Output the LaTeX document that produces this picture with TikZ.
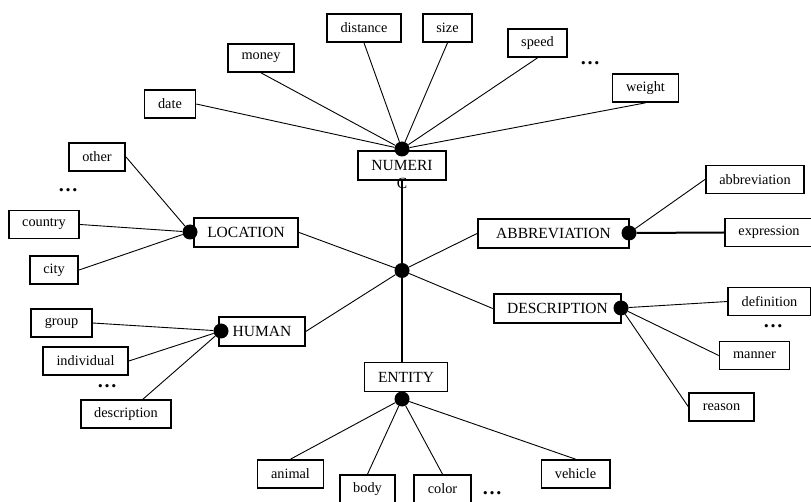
\documentclass[tikz,border=0pt]{standalone}
\usepackage{fontspec}
\setmainfont{Liberation Serif}
\newcommand\catfont{\fontsize{15.5}{18}\selectfont}
\newcommand\leaffont{\fontsize{14.3}{16}\selectfont}
\begin{document}
\begin{tikzpicture}[x=1pt,y=-1pt,
  leaf/.style={draw,line width=1.7pt,font=\leaffont,inner xsep=13.5pt,minimum height=28pt},
  cat/.style={draw,line width=1.9pt,font=\catfont,inner xsep=13.5pt,minimum height=29pt},
  dot/.style={circle,fill,inner sep=0pt,minimum size=15pt},
  more/.style={font=\fontsize{20}{20}\selectfont\bfseries,anchor=base,inner sep=0pt},
  link/.style={line width=0.9pt},
  trunk/.style={line width=2pt}]
\useasboundingbox (0,0) rectangle (811,502);
%
\node[dot] (hub) at (402,270.5) {};
\node[cat,label={[font=\catfont,inner sep=0pt,label distance=-3pt]below:C}] (num) at (402,165.5) {NUMERI};
\node[cat] (loc) at (246,232.5) {LOCATION};
\node[cat] (hum) at (262,331.5) {HUMAN};
\node[cat,minimum width=151pt] (abb) at (553.5,233.5) {ABBREVIATION};
\node[cat] (des) at (557.5,308.5) {DESCRIPTION};
\node[cat] (ent) at (406,377) {ENTITY};
\node[dot] (numdot) at (402,149) {};
\node[dot] (locdot) at (190,232) {};
\node[dot] (humdot) at (221,331) {};
\node[dot] (abbdot) at (629,233) {};
\node[dot] (desdot) at (621,308) {};
\node[dot] (entdot) at (402,399) {};
%
\draw[trunk] (num.south) -- (hub);
\draw[trunk] (hub) -- (hub |- ent.north);
\draw[link] (hub) -- (loc.east);
\draw[link] (hub) -- (hum.east);
\draw[link] (hub) -- (abb.west);
\draw[link] (hub) -- (des.west);
% numeric
\node[leaf] (date) at (170,104) {date};
\node[leaf] (money) at (261,58) {money};
\node[leaf] (distance) at (364,28) {distance};
\node[leaf] (size) at (447.5,28) {size};
\node[leaf] (speed) at (537.5,43) {speed};
\node[leaf] (weight) at (645.5,88) {weight};
\node[more] at (590,65) {\ldots};
\draw[link] (numdot) -- (date.east);
\foreach \n in {money,distance,size,speed,weight}
  \draw[link] (numdot) -- (\n.south);
% location
\node[leaf] (other) at (97,157) {other};
\node[leaf] (country) at (44,224.5) {country};
\node[leaf] (city) at (54,270) {city};
\node[more] at (68,192) {\ldots};
\foreach \n in {other,country,city}
  \draw[link] (locdot) -- (\n.east);
% human
\node[leaf] (group) at (61.5,323) {group};
\node[leaf] (individual) at (85.5,361) {individual};
\node[leaf] (hdesc) at (126,414) {description};
\node[more] at (107,388) {\ldots};
\foreach \n in {group,individual}
  \draw[link] (humdot) -- (\n.east);
\draw[link] (humdot) -- (hdesc);
% abbreviation
\node[leaf] (abbrev) at (755,179.5) {abbreviation};
\node[leaf] (expr) at (769,232.5) {expression};
\draw[link] (abbdot) -- (abbrev.west);
\draw[trunk] (abbdot) -- (expr.west);
% description
\node[leaf] (definition) at (769.5,301.5) {definition};
\node[leaf] (manner) at (754.5,355.5) {manner};
\node[leaf] (reason) at (721.5,407) {reason};
\node[more] at (773,328) {\ldots};
\foreach \n in {definition,manner,reason}
  \draw[link] (desdot) -- (\n.west);
% entity
\node[leaf] (animal) at (290.5,474) {animal};
\node[leaf] (body) at (367.5,489) {body};
\node[leaf] (color) at (442.5,489) {color};
\node[leaf] (vehicle) at (575.5,474) {vehicle};
\node[more] at (492,494) {\ldots};
\foreach \n in {animal,body,color,vehicle}
  \draw[link] (entdot) -- (\n.north);
\end{tikzpicture}
\end{document}
